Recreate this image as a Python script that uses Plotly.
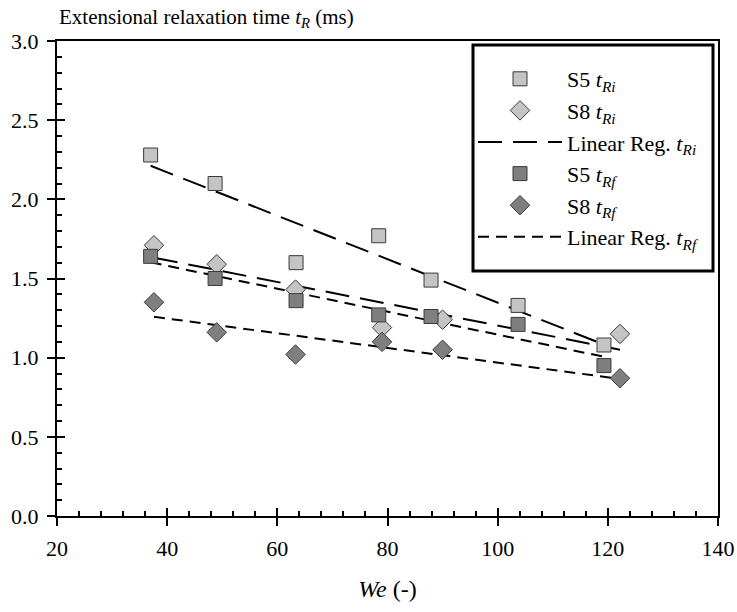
import numpy as np
import plotly.graph_objects as go

# Weber number and relaxation times
s5_we = [37.0, 48.7, 63.4, 78.4, 87.9, 103.7, 119.3]
s5_tri = [2.28, 2.10, 1.60, 1.77, 1.49, 1.33, 1.08]
s5_trf = [1.64, 1.50, 1.36, 1.27, 1.26, 1.21, 0.95]

s8_we = [37.6, 49.0, 63.3, 79.0, 90.0, 122.2]
s8_tri = [1.71, 1.59, 1.43, 1.19, 1.24, 1.15]
s8_trf = [1.35, 1.16, 1.02, 1.10, 1.05, 0.87]

LIGHT = "#c4c4c4"
DARK = "#7f7f7f"
EDGE = "#3a3a3a"
FONT = "Times New Roman, Liberation Serif, serif"


def fit_line(x, y):
    """Least-squares straight line over the range of x."""
    slope, icpt = np.polyfit(x, y, 1)
    xs = np.array([min(x), max(x)])
    return xs, slope * xs + icpt


def marker(symbol, color):
    size = 14 if symbol == "square" else 15
    return dict(symbol=symbol, size=size, color=color, line=dict(color=EDGE, width=1))


def sub(name):
    return f"<i>t</i><sub><i>{name}</i></sub>"


fig = go.Figure()

# fit lines first so the markers sit on top
for i, (x, y) in enumerate([(s5_we, s5_tri), (s8_we, s8_tri)]):
    xs, ys = fit_line(x, y)
    fig.add_trace(go.Scatter(x=xs, y=ys, mode="lines", line=dict(color="black", width=2, dash="24px,11px"),
                             name="Linear Reg. " + sub("Ri"), legendgroup="ri",
                             showlegend=(i == 0), legendrank=3))
for i, (x, y) in enumerate([(s5_we, s5_trf), (s8_we, s8_trf)]):
    xs, ys = fit_line(x, y)
    fig.add_trace(go.Scatter(x=xs, y=ys, mode="lines", line=dict(color="black", width=2, dash="11px,7px"),
                             name="Linear Reg. " + sub("Rf"), legendgroup="rf",
                             showlegend=(i == 0), legendrank=6))

fig.add_trace(go.Scatter(x=s5_we, y=s5_tri, mode="markers", marker=marker("square", LIGHT),
                         name="S5 " + sub("Ri"), legendgroup="s5ri", legendrank=1))
fig.add_trace(go.Scatter(x=s8_we, y=s8_tri, mode="markers", marker=marker("diamond", LIGHT),
                         name="S8 " + sub("Ri"), legendgroup="s8ri", legendrank=2))
fig.add_trace(go.Scatter(x=s5_we, y=s5_trf, mode="markers", marker=marker("square", DARK),
                         name="S5 " + sub("Rf"), legendgroup="s5rf", legendrank=4))
fig.add_trace(go.Scatter(x=s8_we, y=s8_trf, mode="markers", marker=marker("diamond", DARK),
                         name="S8 " + sub("Rf"), legendgroup="s8rf", legendrank=5))

axis_common = dict(
    showline=True, linecolor="black", linewidth=2, mirror=True,
    showgrid=False, zeroline=False, automargin=False,
    ticks="outside", ticklen=8, tickwidth=2, tickcolor="black",
    tickfont=dict(family=FONT, size=22, color="black"),
    ticklabelstandoff=4,
)
fig.update_xaxes(
    range=[20, 140], dtick=20, tick0=20,
    title=dict(text="<i>We</i> (-)", font=dict(family=FONT, size=24, color="black"), standoff=20),
    **axis_common,
)
fig.update_yaxes(range=[0, 3], dtick=0.5, tickformat=".1f", **axis_common)

# extra overlay axes: inner half of the major ticks (they cross the axes) and inward minor ticks
inner = dict(ticks="inside", tickwidth=2, tickcolor="black", showticklabels=False,
             showgrid=False, zeroline=False, showline=False)
fig.update_layout(
    xaxis2=dict(overlaying="x", range=[20, 140], dtick=20, tick0=20, ticklen=8, **inner),
    yaxis2=dict(overlaying="y", range=[0, 3], dtick=0.5, tick0=0, ticklen=8, **inner),
    xaxis3=dict(overlaying="x", range=[20, 140], dtick=4, tick0=20, ticklen=5, **inner),
    yaxis3=dict(overlaying="y", range=[0, 3], dtick=0.1, tick0=0, ticklen=5, **inner),
)
for ax in ("2", "3"):
    fig.add_trace(go.Scatter(x=[None], y=[None], xaxis="x" + ax, yaxis="y" + ax,
                             showlegend=False, hoverinfo="skip"))

fig.add_annotation(
    text="Extensional relaxation time " + "<i>t</i><sub><i>R</i></sub> (ms)",
    xref="paper", yref="paper", x=0.0, y=(516 - 18) / 475,
    xanchor="left", yanchor="middle", showarrow=False,
    font=dict(family=FONT, size=21, color="black"),
)

# legend frame
fig.add_shape(
    type="rect", xref="paper", yref="paper",
    x0=(473 - 57) / 661, x1=(713 - 57) / 661, y0=(516 - 271) / 475, y1=(516 - 45) / 475,
    line=dict(color="black", width=3), fillcolor="white", layer="below",
)

fig.update_layout(
    width=737, height=612,
    margin=dict(l=57, r=19, t=41, b=96),
    paper_bgcolor="white", plot_bgcolor="white",
    font=dict(family=FONT, color="black"),
    showlegend=True,
    legend=dict(
        x=(473 - 57) / 661, y=(516 - 58) / 475, xanchor="left", yanchor="top",
        bgcolor="rgba(0,0,0,0)", borderwidth=0,
        font=dict(family=FONT, size=22, color="black"),
        itemwidth=84, tracegroupgap=0,
    ),
)

fig.write_html("out.html", config={"displayModeBar": False},
               post_script="document.body.style.margin = '0';")
